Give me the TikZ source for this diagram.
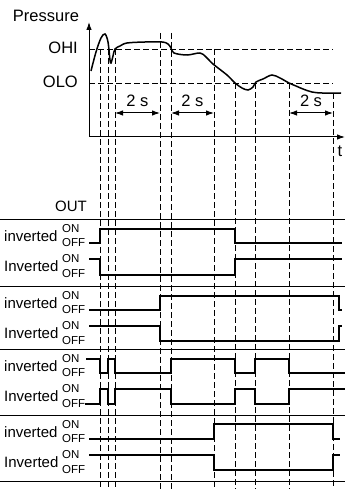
\documentclass[tikz,border=0pt]{standalone}
\usepackage{fontspec}
\setmainfont{Liberation Sans}
\usetikzlibrary{arrows.meta}

\begin{document}
\begin{tikzpicture}[x=1pt, y=-1pt,
    axis/.style={line width=1pt, -{Latex[length=8pt,width=5.5pt]}},
    level/.style={line width=0.9pt, dash pattern=on 6pt off 3pt},
    marker/.style={line width=0.9pt, dash pattern=on 6pt off 3pt},
    span/.style={line width=1pt, {Latex[length=8pt,width=5.5pt]}-{Latex[length=8pt,width=5.5pt]}},
    sig/.style={line width=1.6pt},
    sep/.style={line width=0.9pt},
    lbl/.style={font=\fontsize{15}{15}\selectfont, inner sep=0pt},
    big/.style={font=\fontsize{16.5}{16.5}\selectfont, inner sep=0pt},
    onoff/.style={font=\fontsize{11.5}{11.5}\selectfont, inner sep=0pt, anchor=west}
  ]
  \useasboundingbox (0,0) rectangle (345,489);

  % pressure axes and thresholds
  \coordinate (orig) at (89,137);
  \coordinate (ytop) at (89,22);
  \coordinate (xend) at (345,137);
  \draw[axis] (orig) -- (ytop);
  \draw[axis] (orig) -- (xend);
  \node[big] (pres) at (46,16) {Pressure};
  \node[big] (tlab) at (340,151) {t};
  \node[big, anchor=east] (ohi) at (78,48) {OHI};
  \node[big, anchor=east] (olo) at (78,82) {OLO};
  \draw[level] (89,49) -- (333,49);
  \draw[level] (89,83) -- (333,83);

  \draw[line width=1.5pt] plot[smooth, tension=0.55] coordinates {
    (91,71) (96,52) (101,38) (105,34) (108,42) (110,60) (111,63) (113,56)
    (115,49) (120,46) (127,43) (145,42) (162,42) (168,44) (171,48)
    (174,53) (187,55) (200,53) (206,57) (213,64) (227,75) (235,83)
    (242,88) (248,90) (253,87) (256,82) (263,79) (272,75) (280,78)
    (289,83) (296,86) (303,89) (312,92) (322,93) (341,93)};

  % time marks
  \foreach \x/\top in {100/49, 108/49, 115/49, 160/33, 171/33, 214/49,
                       235/83, 255/83, 289/83, 333/93}
    \draw[marker] (\x,\top) -- (\x,489);

  % delays
  \coordinate (d1a) at (115,113); \coordinate (d1b) at (160,113);
  \coordinate (d2a) at (171,113); \coordinate (d2b) at (214,113);
  \coordinate (d3a) at (289,113); \coordinate (d3b) at (333,113);
  \draw[span] (d1a) -- (d1b) node[big, midway, above=6pt] (s1) {2 s};
  \draw[span] (d2a) -- (d2b) node[big, midway, above=6pt] (s2) {2 s};
  \draw[span] (d3a) -- (d3b) node[big, midway, above=6pt] (s3) {2 s};

  % outputs
  \node[lbl, anchor=east] (out) at (87,206) {OUT};
  \foreach \y in {219,286,349,415,481}
    \draw[sep] (0,\y) -- (345,\y);
  \foreach \g in {219,286,349,415} {
    \node[lbl, anchor=west] (na-\g) at (4,\g+17) {inverted};
    \node[onoff] (ona-\g) at (62,\g+10) {ON};
    \node[onoff] (offa-\g) at (62,\g+24) {OFF};
    \node[lbl, anchor=west] (nb-\g) at (4,\g+47) {Inverted};
    \node[onoff] (onb-\g) at (62,\g+40) {ON};
    \node[onoff] (offb-\g) at (62,\g+55) {OFF};
  }

  % group 1
  \draw[sig] (89,243) -- (100,243) -- (100,229) -- (235,229) -- (235,243) -- (342,243);
  \draw[sig] (89,259) -- (100,259) -- (100,275) -- (235,275) -- (235,259) -- (342,259);
  % group 2
  \draw[sig] (89,310) -- (160,310) -- (160,296) -- (339,296) -- (339,310) -- (342,310);
  \draw[sig] (89,326) -- (160,326) -- (160,341) -- (339,341) -- (339,326) -- (342,326);
  % group 3
  \draw[sig] (86,359) -- (100,359) -- (100,373) -- (108,373) -- (108,359) -- (115,359)
    -- (115,373) -- (171,373) -- (171,359) -- (235,359) -- (235,373) -- (255,373)
    -- (255,359) -- (289,359) -- (289,373) -- (345,373);
  \draw[sig] (85,404) -- (100,404) -- (100,389) -- (108,389) -- (108,404) -- (115,404)
    -- (115,389) -- (171,389) -- (171,404) -- (235,404) -- (235,389) -- (255,389)
    -- (255,404) -- (289,404) -- (289,389) -- (345,389);
  % group 4
  \draw[sig] (89,439) -- (214,439) -- (214,424) -- (333,424) -- (333,439) -- (340,439);
  \draw[sig] (89,455) -- (214,455) -- (214,470) -- (333,470) -- (333,455) -- (340,455);
\end{tikzpicture}
\end{document}
